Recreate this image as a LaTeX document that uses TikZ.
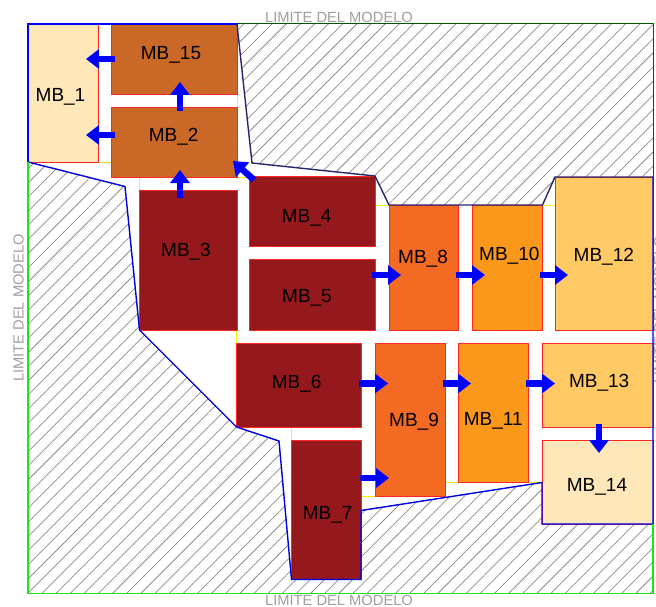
\documentclass[tikz,border=0pt]{standalone}
\usepackage{fontspec}
\setmainfont{Liberation Sans}
\usepackage{xcolor}
\usetikzlibrary{arrows.meta,calc,patterns.meta,positioning}
\definecolor{oscuro}{HTML}{95191C}
\definecolor{cobre}{HTML}{CA6828}
\definecolor{naranja}{HTML}{F36A22}
\definecolor{ambar}{HTML}{FA981C}
\definecolor{claro}{HTML}{FFC966}
\definecolor{crema}{HTML}{FEE8B9}
\definecolor{azul}{HTML}{0000FF}
\definecolor{tinta}{HTML}{26266E}
\definecolor{verde}{HTML}{19E619}
\tikzset{
  caja/.style={draw=red!85!white,line width=0.9pt,anchor=north west,inner sep=0pt,outer sep=0pt},
  rotulo/.style={font=\fontsize{19}{19}\selectfont,inner sep=0pt,text depth=0pt},
  limite/.style={font=\fontsize{14.7}{15}\selectfont,text=gray!75,inner sep=0pt,text depth=0pt},
  flujo/.style={draw=azul,line width=6.5pt,-{Triangle[length=13pt,width=19pt]}},
  rayado/.style={pattern={Lines[angle=45,distance=10pt,line width=0.75pt]},pattern color=gray!90},
  junta/.style={draw=yellow,line width=0.9pt}
}
\begin{document}
\begin{tikzpicture}[>=Stealth,x=1pt,y=-1pt]
\useasboundingbox (0,0) rectangle (656,607);
% zonas rayadas
\fill[rayado] (237,24)--(653,24)--(653,177)--(555,177)--(542.5,205)--(389,205)--(375,176)--(252,163)--cycle;
\fill[rayado] (28,162)--(125,186.5)--(139.5,330)--(236.5,427)--(279,441)--(291.5,579.5)--(361,579.5)--(361,510.5)--(542,482.5)--(542,524)--(653,524)--(653,593.5)--(28,593.5)--cycle;
% juntas
\foreach \xa/\ya/\xb/\yb in {98/162/111/162,237/94/237/107,139/177/139/190,237/177/249/177,236/330/236/343,291.5/427/291.5/440,375/205/389/205,542.5/205/555/205,445.5/482.5/458/482.5,361/496.5/375/496.5,528.5/482.5/542/482.5}{\draw[junta] (\xa,\ya)--(\xb,\yb);}
% bloques
\foreach \n/\x/\y/\w/\h/\c in {1/28/24/70/138/crema,15/111/24/126/70/cobre,2/111/107/126/70/cobre,3/139/190/98/140/oscuro,4/249/176.5/126/70/oscuro,5/249/259.5/126/70.5/oscuro,6/236/343/125/84/oscuro,7/291.5/440/69.5/139.5/oscuro,8/389/205/69.5/125/naranja,9/375/343/70.5/153.5/naranja,10/472/205/70.5/125/ambar,11/458/343/70.5/139.5/ambar,12/555/177/98/153/claro,13/542/343/111/84/claro,14/542/440/111/84/crema}{
\node[caja,fill=\c,minimum width=\w pt,minimum height=\h pt] (mb\n) at (\x,\y) {};}
% rotulos
\foreach \n/\x/\y in {1/60.5/94.5,15/171/53,2/173.7/135,3/186/249.5,4/306.7/216,5/307/296,6/296.7/381.7,7/327.7/512.5,8/423/256.7,9/414/419.5,10/509.3/253.5,11/493.3/418.5,12/603.8/255,13/599.2/381,14/597/484.5}{
\node[rotulo] (lbl\n) at (\x,\y) {MB\_\n};}
% contornos
\draw[azul,line width=1.4pt] (28,162)--(28,24)--(237,24);
\draw[tinta,line width=1.4pt] (237,24)--(252,163)--(375,176)--(389,205)--(542.5,205)--(555,177)--(653,177);
\draw[azul!90!black,line width=1.4pt] (28,162)--(125,186.5)--(139.5,330)--(236.5,427)--(279,441)--(291.5,579.5)--(361,579.5)--(361,510.5)--(542,482.5)--(542,524)--(653,524)--(653,177);
\draw[verde,line width=1.2pt] (28,162)--(28,593.5)--(653,593.5)--(653,524);
\draw[green!35!black,line width=1pt] (237,24)--(653,24)--(653,177);
% textos de limite
\node[limite] (limN) at (339,17) {LIMITE DEL MODELO};
\node[limite] (limS) at (339,600.6) {LIMITE DEL MODELO};
\node[limite,rotate=90] (limW) at (18.5,308) {LIMITE DEL MODELO};
\node[limite,rotate=90] (limE) at (659.3,310) {LIMITE DEL MODELO};
% flechas
\draw[flujo] ($(mb15.west)+(4,0)$)--($(mb1.east)+(-12,-34)$);
\draw[flujo] ($(mb2.west)+(4,-7)$)--($(mb1.east)+(-12,42)$);
\draw[flujo] ($(mb2.north)+(6,4)$)--($(mb15.south)+(6,-12)$);
\draw[flujo] ($(mb3.north)+(-8,8)$)--($(mb2.south)+(6,-7)$);
\draw[flujo] ($(mb4.north west)+(5,3.5)$)--($(mb2.south east)+(-4,-16)$);
\draw[flujo] ($(mb5.east)+(-3,-19.75)$)--($(mb8.west)+(12,7.5)$);
\draw[flujo] ($(mb8.east)+(-2.5,7.5)$)--($(mb10.west)+(13,7.5)$);
\draw[flujo] ($(mb10.east)+(-2.5,7.5)$)--($(mb12.west)+(13,21.5)$);
\draw[flujo] ($(mb6.east)+(-2,-1.5)$)--($(mb9.west)+(13,-36.25)$);
\draw[flujo] ($(mb9.east)+(-2.5,-36.25)$)--($(mb11.west)+(13,-29.25)$);
\draw[flujo] ($(mb11.east)+(-3,-29.25)$)--($(mb13.west)+(13,-1.5)$);
\draw[flujo] ($(mb13.south)+(1.5,-3)$)--($(mb14.north)+(1.5,13)$);
\draw[flujo] ($(mb7.east)+(-1,-31.75)$)--($(mb9.west)+(14,58.25)$);
\end{tikzpicture}
\end{document}
